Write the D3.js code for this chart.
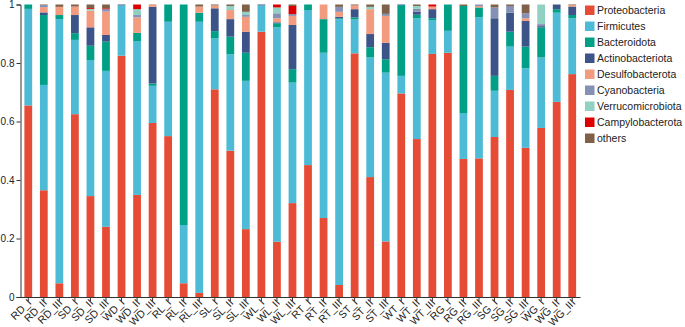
<!DOCTYPE html>
<html>
<head>
<meta charset="utf-8">
<script src="https://cdn.jsdelivr.net/npm/d3@7"></script>
<style>
  body { margin: 0; background: #fff; }
  svg { display: block; font-family: "Liberation Sans", Arial, sans-serif; }
</style>
</head>
<body>
<div id="chart"></div>
<script>
// ---------------- data ----------------
const samples = ["RD_I","RD_II","RD_III","SD_I","SD_II","SD_III","WD_I","WD_II","WD_III",
  "RL_I","RL_II","RL_III","SL_I","SL_II","SL_III","WL_I","WL_II","WL_III",
  "RT_I","RT_II","RT_III","ST_I","ST_II","ST_III","WT_I","WT_II","WT_III",
  "RG_I","RG_II","RG_III","SG_I","SG_II","SG_III","WG_I","WG_II","WG_III"];

const phyla = ["Proteobacteria","Firmicutes","Bacteroidota","Actinobacteriota","Desulfobacterota",
  "Cyanobacteria","Verrucomicrobiota","Campylobacterota","others"];

const colors = ["#E64B35","#4DBBD5","#00A087","#3C5488","#F39B7F","#8491B4","#91D1C2","#DC0000","#7E6148"];

const proteobacteria = [0.655,0.365,0.047,0.625,0.345,0.24,0.825,0.349,0.595,0.55,0.047,0.014,0.71,0.5,0.232,0.907,0.189,0.321,0.451,0.27,0.041,0.833,0.41,0.19,0.696,0.54,0.831,0.835,0.472,0.474,0.547,0.708,0.51,0.578,0.667,0.762];
const firmicutes = [0.33,0.36,0.903,0.254,0.465,0.533,0.172,0.526,0.127,0.391,0.199,0.927,0.174,0.33,0.507,0.09,0.733,0.412,0.53,0.565,0.909,0.116,0.409,0.577,0.06,0.413,0.116,0.075,0.157,0.482,0.158,0.148,0.272,0.241,0.305,0.191];
const bacteroidota = [0.015,0.239,0.014,0.023,0.049,0.1,0,0.028,0.008,0.059,0.754,0.031,0.025,0.06,0.096,0,0.014,0.046,0.019,0.115,0.003,0.007,0.035,0.046,0.242,0.012,0.006,0.09,0.366,0.034,0.051,0.051,0.074,0.103,0.012,0.011];
const actinobacteriota = [0,0.009,0,0.062,0.063,0.023,0.003,0,0.262,0,0,0,0.078,0.06,0.072,0.003,0.003,0.151,0,0,0.005,0.028,0.045,0.056,0.002,0.01,0.031,0,0,0,0.197,0.065,0.088,0.004,0.016,0.029];
const desulfobacterota = [0,0.018,0.028,0.029,0.057,0.08,0,0.053,0.007,0,0,0.021,0.01,0.031,0.051,0,0.014,0.031,0,0.05,0.017,0.013,0.085,0.092,0,0,0.009,0,0,0.005,0,0,0.009,0,0,0.005];
const cyanobacteria = [0,0.007,0,0,0,0.008,0,0.008,0,0,0,0,0,0,0.006,0,0.017,0.006,0,0,0.017,0,0,0.007,0,0.01,0,0,0,0.005,0.037,0.023,0.017,0.007,0,0];
const verrucomicrobiota = [0,0,0,0,0.006,0,0,0.02,0,0,0,0,0,0.014,0.011,0,0.02,0,0,0,0,0,0.008,0,0,0.01,0,0,0,0,0,0,0,0.067,0,0];
const campylobacterota = [0,0,0,0,0.003,0.003,0,0.016,0,0,0,0,0,0,0,0,0.01,0.028,0,0,0,0,0,0,0,0,0.007,0,0,0,0,0,0,0,0,0];
const others = [0,0.002,0.008,0.007,0.012,0.013,0,0,0.001,0,0,0.007,0.003,0.005,0.025,0,0,0.005,0,0,0.008,0.003,0.008,0.032,0,0.005,0,0,0.005,0,0.01,0.005,0.03,0,0,0.002];

const yTicks = [0, 0.2, 0.4, 0.6, 0.8, 1];

const seriesByPhylum = [proteobacteria, firmicutes, bacteroidota, actinobacteriota, desulfobacterota,
  cyanobacteria, verrucomicrobiota, campylobacterota, others];

// table for d3.stack
const table = samples.map((s, i) => {
  const row = { sample: s };
  phyla.forEach((p, k) => { row[p] = seriesByPhylum[k][i]; });
  return row;
});

// ---------------- layout ----------------
const width = 685, height = 327;

const svg = d3.select("#chart").append("svg")
  .attr("width", width)
  .attr("height", height);

const x = d3.scaleBand()
  .domain(samples)
  .range([20.5, 580])
  .paddingInner(0.5)
  .paddingOuter(0.25);

const y = d3.scaleLinear()
  .domain([0, 1])
  .range([297, 4.5]);

const color = d3.scaleOrdinal().domain(phyla).range(colors);

// ---------------- bars ----------------
const stacked = d3.stack().keys(phyla)(table);

svg.append("g")
  .selectAll("g")
  .data(stacked)
  .join("g")
  .attr("fill", d => color(d.key))
  .selectAll("rect")
  .data(d => d)
  .join("rect")
  .attr("x", d => x(d.data.sample))
  .attr("width", x.bandwidth())
  .attr("y", d => y(d[1]))
  .attr("height", d => Math.max(0, y(d[0]) - y(d[1])));

// ---------------- axes ----------------
const yAxis = svg.append("g")
  .attr("transform", `translate(${x.range()[0]},0)`)
  .call(d3.axisLeft(y).tickValues(yTicks).tickFormat(d3.format("~g")).tickSize(4).tickPadding(2));

const xAxis = svg.append("g")
  .attr("transform", `translate(0,${y(0)})`)
  .call(d3.axisBottom(x).tickSize(4).tickSizeOuter(0));

[yAxis, xAxis].forEach(g => {
  g.selectAll("path, line").attr("stroke", "#333");
  g.selectAll("text").attr("fill", "#222").style("font-size", "11px");
});
yAxis.selectAll("text").style("font-size", "10px");

xAxis.selectAll("text")
  .style("font-size", "10.5px")
  .attr("text-anchor", "end")
  .attr("x", -2)
  .attr("y", 2)
  .attr("dy", "0.5em")
  .attr("transform", "rotate(-45)");

// ---------------- legend ----------------
const legend = svg.append("g")
  .attr("transform", "translate(585,5.5)");

const item = legend.selectAll("g")
  .data(phyla)
  .join("g")
  .attr("transform", (d, i) => `translate(0,${i * 16})`);

item.append("rect")
  .attr("width", 9.5)
  .attr("height", 9.5)
  .attr("fill", d => color(d));

item.append("text")
  .attr("x", 12)
  .attr("y", 4.75)
  .attr("dy", "0.35em")
  .style("font-size", "10.5px")
  .attr("fill", "#222")
  .text(d => d);
</script>
</body>
</html>
